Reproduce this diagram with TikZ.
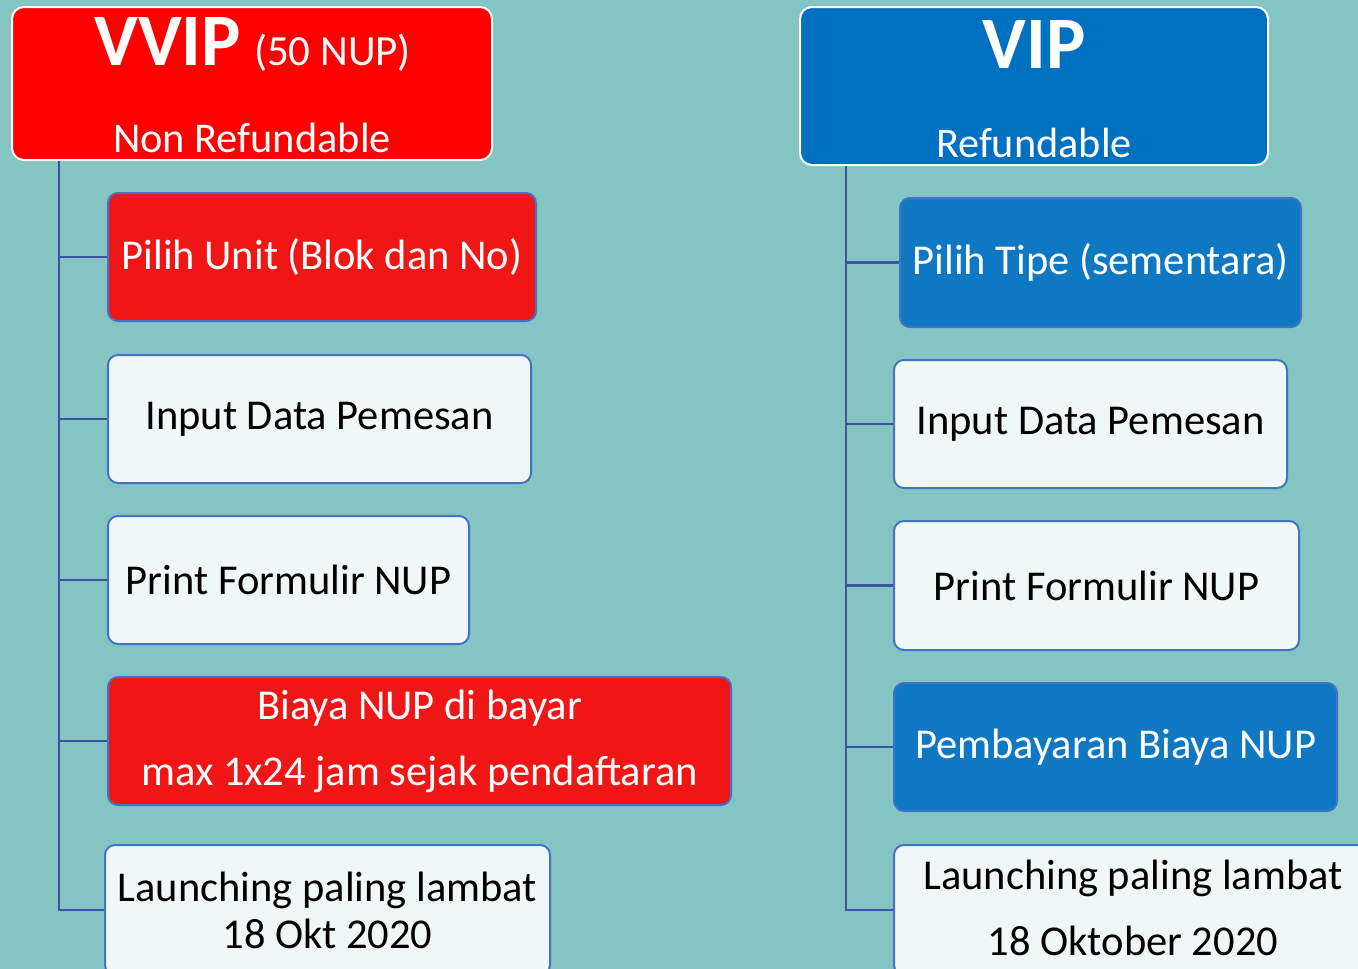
\documentclass[tikz,border=0pt]{standalone}
\usepackage{fontspec}
\setmainfont{Carlito}
\definecolor{sea}{RGB}{132,197,196}
\definecolor{topred}{RGB}{255,0,0}
\definecolor{topblue}{RGB}{0,112,192}
\definecolor{kidred}{RGB}{240,22,22}
\definecolor{kidblue}{RGB}{14,120,194}
\definecolor{paper}{RGB}{240,248,247}
\definecolor{rim}{RGB}{68,114,196}
\definecolor{stem}{RGB}{59,86,160}
\begin{document}
\begin{tikzpicture}[x=1pt, y=-1pt,
		box/.style={draw=rim, line width=2pt, rounded corners=10pt, inner sep=0pt, align=center,
			font=\fontsize{42.5}{66}\selectfont},
		hot/.style={box, fill=kidred, text=white},
		cool/.style={box, fill=kidblue, text=white},
		plain/.style={box, fill=paper, text=black},
		head/.style={draw=white, line width=2pt, rounded corners=12pt, inner sep=0pt},
		branch/.style={draw=stem, line width=2.5pt}]
	\clip (0,0) rectangle (1358,969);
	\fill[sea] (0,0) rectangle (1358,969);
	% VVIP side
	\node[head, fill=topred, minimum width=480, minimum height=153] (vvip) at (252,83.5) {};
	\node[anchor=base, text=white] (vvipt) at (252.5,65) {\fontsize{74}{74}\selectfont\bfseries VVIP\hspace{13pt}\fontsize{43}{43}\selectfont\mdseries(50 NUP)};
	\node[anchor=base, text=white] (nonref) at (252,152) {\fontsize{42.4}{42}\selectfont Non Refundable};
	\node[hot, minimum width=428, minimum height=128] (u1) at (322,257) {Pilih Unit (Blok dan No)};
	\node[plain, minimum width=423, minimum height=128] (u2) at (319.5,419) {Input Data Pemesan};
	\node[plain, minimum width=361, minimum height=128] (u3) at (288.5,580) {Print Formulir NUP};
	\node[hot, minimum width=623, minimum height=128] (u4) at (419.5,741) {Biaya NUP di bayar\\ max 1x24 jam sejak pendaftaran};
	\node[plain, minimum width=445, minimum height=130, font=\fontsize{42.5}{47}\selectfont] (u5) at (327.5,910) {Launching paling lambat\\ 18 Okt 2020};
	% VIP side
	\node[head, fill=topblue, minimum width=468, minimum height=158] (vip) at (1034,86) {};
	\node[anchor=base, text=white] (vipt) at (1034,68) {\fontsize{74}{74}\selectfont\bfseries VIP};
	\node[anchor=base, text=white] (refund) at (1034,157) {\fontsize{42.3}{42}\selectfont Refundable};
	\node[cool, minimum width=401, minimum height=129] (v1) at (1100.5,262.5) {Pilih Tipe (sementara)};
	\node[plain, minimum width=393, minimum height=128] (v2) at (1090.5,424) {Input Data Pemesan};
	\node[plain, minimum width=405, minimum height=129] (v3) at (1096.5,585.5) {Print Formulir NUP};
	\node[cool, minimum width=443, minimum height=128] (v4) at (1115.5,747) {Pembayaran Biaya NUP};
	\node[plain, minimum width=478, minimum height=130, text depth=4pt] (v5) at (1133,910) {Launching paling lambat\\ 18 Oktober 2020};
	\coordinate (lt) at ([xshift=48pt]vvip.south west);
	\coordinate (rt) at ([xshift=47pt]vip.south west);
	\foreach \i in {1,...,5} {
		\draw[branch] (lt) |- (u\i.west);
		\draw[branch] (rt) |- (v\i.west);
	}
\end{tikzpicture}
\end{document}
